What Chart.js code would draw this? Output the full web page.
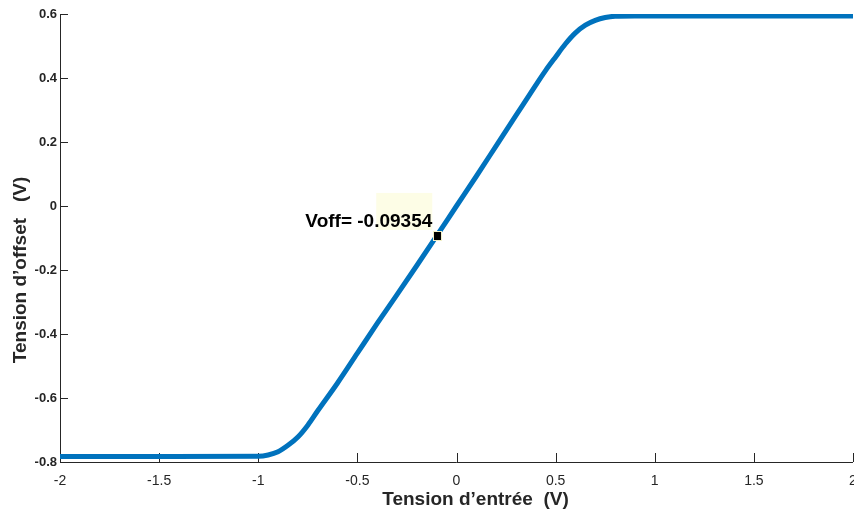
<!DOCTYPE html>
<html>
<head>
<meta charset="utf-8">
<script src="https://cdn.jsdelivr.net/npm/chart.js@4"></script>
<style>
  html, body { margin: 0; padding: 0; background: #fff; }
  #wrap { width: 854px; height: 512px; }
</style>
</head>
<body>
<div id="wrap"><canvas id="courbe" width="854" height="512"></canvas></div>
<script>
// tension d'entrée (V) / tension de sortie relevée (V)
const vEntree = [-2, -1.5, -1.0, -0.95, -0.9, -0.85, -0.8, -0.75, -0.7, -0.6, -0.5, -0.4,
                 -0.3, -0.2, -0.1, 0, 0.1, 0.2, 0.3, 0.4, 0.45, 0.5, 0.55, 0.6, 0.65,
                 0.7, 0.75, 0.8, 0.9, 1.0, 1.5, 2]
const vSortie = [-0.783, -0.783, -0.782, -0.778, -0.768, -0.748, -0.722, -0.685, -0.64,
                 -0.553, -0.46, -0.367, -0.277, -0.186, -0.0935, 0.0, 0.093, 0.188, 0.283,
                 0.378, 0.424, 0.466, 0.507, 0.541, 0.565, 0.58, 0.589, 0.593, 0.594, 0.594,
                 0.594, 0.594]

// point du datatip
const pointOffset = { x: -0.097, y: -0.09354 }
const texteOffset = 'Voff= -0.09354'

const ticksX = [-2, -1.5, -1, -0.5, 0, 0.5, 1, 1.5, 2]
const ticksY = [-0.8, -0.6, -0.4, -0.2, 0, 0.2, 0.4, 0.6]

const GRIS = '#262626'
const POLICE = "'Liberation Sans', Arial, sans-serif"

// axes façon MATLAB : gauche + bas, graduations vers l'intérieur
const axesMatlab = {
  id: 'axesMatlab',
  beforeDatasetsDraw(chart) {
    const { ctx, chartArea: a, scales: { x, y } } = chart
    ctx.save()
    ctx.strokeStyle = GRIS
    ctx.lineWidth = 1
    ctx.beginPath()
    ctx.moveTo(a.left + 0.5, a.top)
    ctx.lineTo(a.left + 0.5, a.bottom + 0.5)
    ctx.lineTo(a.right, a.bottom + 0.5)
    ticksX.forEach(v => {
      const px = Math.round(x.getPixelForValue(v)) + 0.5
      ctx.moveTo(px, a.bottom)
      ctx.lineTo(px, a.bottom - 9)
    })
    ticksY.forEach(v => {
      const py = Math.round(y.getPixelForValue(v)) + 0.5
      ctx.moveTo(a.left, py)
      ctx.lineTo(a.left + 8, py)
    })
    ctx.stroke()
    ctx.restore()
  },
  afterDraw(chart) {
    const { ctx, chartArea: a, scales: { x, y } } = chart
    ctx.save()
    // titres des axes
    ctx.fillStyle = GRIS
    ctx.font = `bold 19px ${POLICE}`
    ctx.textAlign = 'center'
    ctx.textBaseline = 'middle'
    ctx.fillText('Tension d\u2019entrée  (V)', (a.left + a.right) / 2 + 19, 500)
    ctx.save()
    ctx.translate(21, (a.top + a.bottom) / 2 + 32)
    ctx.rotate(-Math.PI / 2)
    ctx.fillText('Tension d\u2019offset   (V)', 0, 0)
    ctx.restore()

    // datatip
    const px = x.getPixelForValue(pointOffset.x)
    const py = y.getPixelForValue(pointOffset.y)
    ctx.fillStyle = '#fdfde6'
    ctx.fillRect(px - 61, py - 43, 56, 37)
    ctx.fillStyle = '#000'
    ctx.font = `bold 19px ${POLICE}`
    ctx.textAlign = 'right'
    ctx.textBaseline = 'middle'
    ctx.fillText(texteOffset, px - 5, py - 14)
    ctx.fillStyle = '#f2f0c8'
    ctx.fillRect(Math.round(px) - 4, Math.round(py) - 5, 9, 10)
    ctx.fillStyle = '#000'
    ctx.fillRect(Math.round(px) - 3, Math.round(py) - 4, 7, 8)
    ctx.restore()
  }
}

new Chart(document.getElementById('courbe'), {
  type: 'line',
  data: {
    datasets: [{
      data: vEntree.map((v, i) => ({ x: v, y: vSortie[i] })),
      borderColor: '#0072BD',
      borderWidth: 5,
      borderCapStyle: 'round',
      borderJoinStyle: 'round',
      pointRadius: 0,
      cubicInterpolationMode: 'monotone',
      fill: false
    }]
  },
  options: {
    responsive: false,
    animation: false,
    events: [],
    layout: { padding: { top: 14, right: 1, left: 0, bottom: 0 } },
    plugins: { legend: { display: false }, tooltip: { enabled: false } },
    scales: {
      x: {
        type: 'linear',
        min: -2, max: 2,
        afterFit: s => { s.height = 50; s.paddingLeft = 0; s.paddingRight = 0 },
        afterBuildTicks: s => { s.ticks = ticksX.map(v => ({ value: v })) },
        grid: { display: false, drawTicks: false },
        border: { display: false },
        ticks: { color: GRIS, padding: 11, maxRotation: 0, autoSkip: false,
                 callback: v => String(v),
                 font: { family: POLICE, size: 14 } }
      },
      y: {
        min: -0.8, max: 0.6,
        afterFit: s => { s.width = 60; s.paddingTop = 0; s.paddingBottom = 0 },
        afterBuildTicks: s => { s.ticks = ticksY.map(v => ({ value: v })) },
        grid: { display: false, drawTicks: false },
        border: { display: false },
        ticks: { color: GRIS, padding: 3, autoSkip: false,
                 callback: v => String(v),
                 font: { family: POLICE, size: 13, weight: 'bold' } }
      }
    }
  },
  plugins: [axesMatlab]
})
</script>
</body>
</html>
